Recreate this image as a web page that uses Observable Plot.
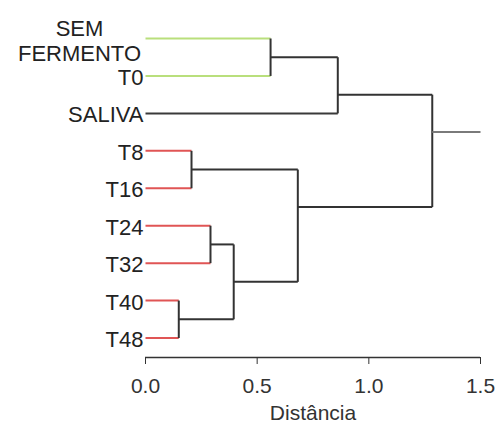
<!DOCTYPE html>
<html>
<head>
<meta charset="utf-8">
<script src="https://cdn.jsdelivr.net/npm/d3@7"></script>
<script src="https://cdn.jsdelivr.net/npm/@observablehq/plot@0.6"></script>
<style>
  html, body { margin: 0; padding: 0; background: #fff; }
  #chart svg { display: block; }
</style>
</head>
<body>
<div id="chart"></div>
<script>
// Leaves (top to bottom)
const leafLabels = ["SEM\nFERMENTO", "T0", "SALIVA", "T8", "T16", "T24", "T32", "T40", "T48"];
const leafGroups = ["verde", "verde", "saliva", "vermelho", "vermelho", "vermelho", "vermelho", "vermelho", "vermelho"];
// Merges: node ids 0..8 are leaves, merge k creates node 9+k
const mergeLeft   = [0, 9, 3, 5, 7, 12, 11, 10];
const mergeRight  = [1, 2, 4, 6, 8, 13, 14, 15];
const mergeHeight = [0.56, 0.861, 0.206, 0.291, 0.149, 0.395, 0.682, 1.284];
// Axis
const xTicks = [0, 0.5, 1.0, 1.5];
const xLabel = "Distância";

const groupColor = {verde: "#b9df7c", vermelho: "#e05555", saliva: "#3a3a3a", branch: "#333333", root: "#7a7a7a"};

// Build nodes
const nodes = leafLabels.map((label, i) => ({y: i, size: 1, h: 0, leaf: true, group: leafGroups[i]}));
mergeLeft.forEach((l, k) => {
  const a = nodes[l], b = nodes[mergeRight[k]];
  const wa = 1 / a.size, wb = 1 / b.size;
  nodes.push({y: (a.y * wa + b.y * wb) / (wa + wb), size: a.size + b.size, h: mergeHeight[k], leaf: false});
});

const segs = [];
mergeLeft.forEach((l, k) => {
  const p = nodes[9 + k];
  [nodes[l], nodes[mergeRight[k]]].forEach(c => {
    segs.push({x1: c.h, x2: p.h, y1: c.y, y2: c.y, color: c.leaf ? groupColor[c.group] : groupColor.branch});
  });
  segs.push({x1: p.h, x2: p.h, y1: nodes[l].y, y2: nodes[mergeRight[k]].y, color: groupColor.branch});
});
const root = nodes[nodes.length - 1];
segs.push({x1: root.h, x2: xTicks[xTicks.length - 1], y1: root.y, y2: root.y, color: groupColor.root});

const yAxisPos = 8.52;

const leafData = leafLabels.map((label, i) => ({label, y: i, h: 0}));
const multi = leafData.filter(d => d.label.includes("\n"));
const single = leafData.filter(d => !d.label.includes("\n"));

const chart = Plot.plot({
  width: 496,
  height: 423,
  marginLeft: 145,
  marginRight: 16,
  marginTop: 38,
  marginBottom: 66,
  style: {fontFamily: "'Liberation Sans', Arial, sans-serif", background: "#fff", color: "#333"},
  x: {domain: [xTicks[0], xTicks[xTicks.length - 1]]},
  y: {domain: [0, yAxisPos], reverse: true, axis: null},
  color: {type: "identity"},
  marks: [
    Plot.link(segs, {x1: "x1", x2: "x2", y1: "y1", y2: "y2", stroke: "color", strokeWidth: 2}),
    Plot.ruleY([yAxisPos], {x1: xTicks[0], x2: xTicks[xTicks.length - 1], stroke: "#333", strokeWidth: 1.5}),
    Plot.axisX({
      ticks: xTicks,
      tickFormat: d3.format(".1f"),
      tickSize: 7,
      tickPadding: 14,
      fontSize: 21,
      stroke: "#333",
      label: xLabel,
      labelAnchor: "center",
      labelArrow: "none",
      labelOffset: 62
    }),
    Plot.text(single, {x: "h", y: "y", text: "label", textAnchor: "end", dx: -2, dy: 2, fontSize: 22, fill: "#222"}),
    Plot.text(multi, {x: "h", y: "y", text: "label", textAnchor: "middle", dx: -66, dy: 2, fontSize: 22, lineHeight: 1.15, fill: "#222"})
  ]
});
document.getElementById("chart").appendChild(chart);
</script>
</body>
</html>
